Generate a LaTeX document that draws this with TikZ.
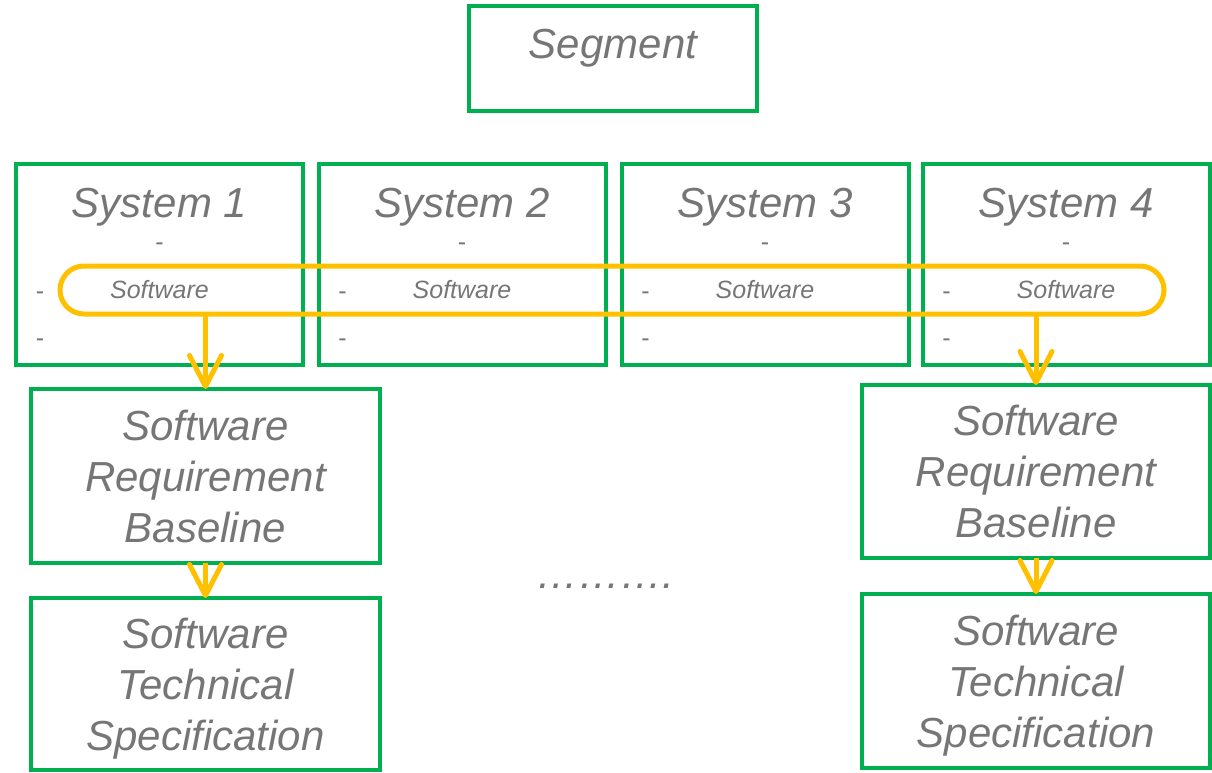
\documentclass[tikz,border=0pt]{standalone}
\usepackage{fontspec}
\setmainfont{Liberation Sans}
\usetikzlibrary{arrows.meta,calc}
\definecolor{boxgreen}{RGB}{0,176,80}
\definecolor{swyellow}{RGB}{255,192,0}
\definecolor{txtgray}{RGB}{118,118,118}
\tikzset{
  box/.style={draw=boxgreen, line width=4pt, inner sep=0pt, outer sep=0pt},
  bigtext/.style={font=\fontsize{42}{51}\selectfont\itshape, text=txtgray, align=center},
  smalltext/.style={font=\fontsize{25}{30}\selectfont\itshape, text=txtgray, anchor=base, inner sep=0pt},
  dashmark/.style={font=\fontsize{25}{30}\selectfont, text=txtgray, anchor=base, inner sep=0pt},
  group/.style={draw=swyellow, line width=5pt, rounded corners=24pt, inner sep=0pt, outer sep=0pt,
    minimum width=1104pt, minimum height=48pt},
  link/.style={draw=swyellow, line width=5pt, -{Straight Barb[length=31pt,width=32pt,round]}}
}
\begin{document}
\begin{tikzpicture}[x=1pt,y=-1pt]
\useasboundingbox (0,0) rectangle (1212,772);

% top level
\node[box, minimum width=288pt, minimum height=105pt] (seg) at (613,58.5) {};
\node[bigtext, anchor=base] (segt) at (613,58) {Segment};

% system boxes
\foreach \i/\cx in {1/159.5, 2/462, 3/765, 4/1066} {
  \node[box, minimum width=287pt, minimum height=201pt] (sys\i) at (\cx,264.5) {};
  \node[bigtext, anchor=base] (sys\i t) at (\cx,217) {System \i};
  \node[dashmark] (sys\i d1) at (\cx,250) {-};
  \node[dashmark] (sys\i d2) at ($(sys\i.west)+(24,35)$) {-};
  \node[dashmark] (sys\i d3) at ($(sys\i.west)+(24,82)$) {-};
  \node[smalltext] (sys\i sw) at (\cx,298) {Software};
}

% software branches
\node[box, minimum width=349pt, minimum height=174pt] (srb1) at (205.5,476) {};
\node[bigtext] (srb1t) at (srb1) {Software\\Requirement\\Baseline};
\node[box, minimum width=349pt, minimum height=172pt] (sts1) at (205.5,684) {};
\node[bigtext] (sts1t) at (205.5,689) {Software\\Technical\\Specification};

\node[box, minimum width=348pt, minimum height=173pt] (srb4) at (1036,471.5) {};
\node[bigtext] (srb4t) at (srb4) {Software\\Requirement\\Baseline};
\node[box, minimum width=348pt, minimum height=174pt] (sts4) at (1036,681) {};
\node[bigtext] (sts4t) at (1036,685.5) {Software\\Technical\\Specification};

\node[font=\fontsize{42}{51}\selectfont\itshape, text=txtgray, anchor=base, inner sep=0pt] (dots) at (605,588) {……….};

% software grouping across systems
\node[group] (grp) at (612,290) {};

\draw[link] (grp.south -| srb1.north) -- (srb1.north);
\draw[link] (srb1.south) -- (sts1.north);
\draw[link] (grp.south -| srb4.north) -- (srb4.north);
\draw[link] (srb4.south) -- (sts4.north);
\end{tikzpicture}
\end{document}
